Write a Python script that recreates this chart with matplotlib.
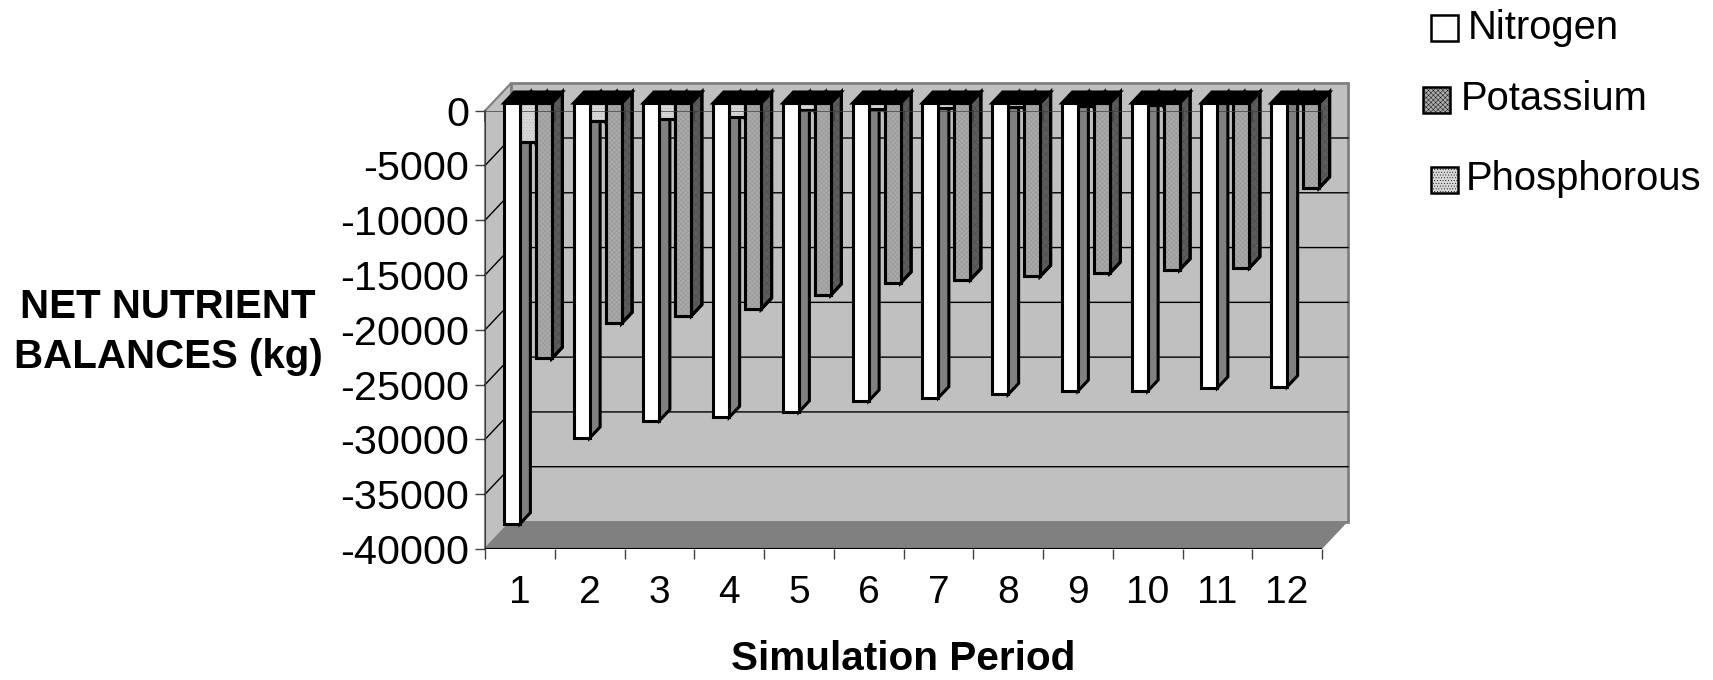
import numpy as np
import matplotlib
matplotlib.use("Agg")
import matplotlib.pyplot as plt
from matplotlib.patches import Polygon, Rectangle

plt.rcParams['font.family'] = ['Liberation Sans', 'DejaVu Sans']
plt.rcParams['hatch.linewidth'] = 0.3

# Datos
periods = [1, 2, 3, 4, 5, 6, 7, 8, 9, 10, 11, 12]
nitrogen = [-38400, -30570, -28980, -28680, -28190, -27190, -26890, -26590, -26290, -26290, -25990, -25890]
phosphorous = [-3560, -1610, -1460, -1250, -640, -550, -430, -400, -250, -180, -30, -20]
potassium = [-23300, -20110, -19410, -18810, -17520, -16420, -16120, -15820, -15520, -15220, -15030, -7750]
y_ticks = [0, -5000, -10000, -15000, -20000, -25000, -30000, -35000, -40000]
legend_names = ["Nitrogen", "Potassium", "Phosphorous"]

W, H = 1713, 680
x0, x1, y0, y1 = 485, 1322, 549, 110.7

fig = plt.figure(figsize=(W / 100, H / 100), dpi=100)
ax = fig.add_axes([x0 / W, 1 - y0 / H, (x1 - x0) / W, (y0 - y1) / H])
ax.set_xlim(0, 12)
ax.set_ylim(-40000, 0)
ax.patch.set_visible(False)
for s in ax.spines.values():
    s.set_visible(False)

# profundidad de la caja en unidades de datos
px_x = 12 / (x1 - x0)
px_y = 40000 / (y0 - y1)
DX = 26 * px_x
DY = 27.5 * px_y


def proj(x, y, d):
    return (x + d * DX, y + d * DY)


def poly(pts, fc, ec="none", lw=0, z=1, hatch=None, hc=None):
    p = Polygon(pts, closed=True, facecolor=fc, edgecolor=ec, linewidth=lw, zorder=z,
                clip_on=False, joinstyle="miter")
    ax.add_patch(p)
    if hatch:
        ax.add_patch(Polygon(pts, closed=True, facecolor="none", edgecolor=hc, linewidth=0,
                             hatch=hatch, zorder=z, clip_on=False))
        ax.add_patch(Polygon(pts, closed=True, facecolor="none", edgecolor=ec, linewidth=lw,
                             zorder=z, clip_on=False, joinstyle="miter"))


# pared del fondo, pared lateral y suelo
poly([proj(0, -40000, 1), proj(12, -40000, 1), proj(12, 0, 1), proj(0, 0, 1)], "#c0c0c0", "#808080", 2, 1)
poly([proj(0, -40000, 0), proj(0, -40000, 1), proj(0, 0, 1), proj(0, 0, 0)], "#c0c0c0", "#808080", 1.5, 1)
poly([proj(0, -40000, 0), proj(12, -40000, 0), proj(12, -40000, 1), proj(0, -40000, 1)], "#808080", z=1)

for v in y_ticks[1:-1]:
    a = proj(0, v, 0)
    b = proj(0, v, 1)
    c = proj(12, v, 1)
    ax.plot([a[0], b[0], c[0]], [a[1], b[1], c[1]], color="black", lw=1, zorder=2, clip_on=False)

# barras
bar_w = 16 * px_x
d0 = 0.28
d1 = 0.68
start = 11.7 * px_x
styles = [
    ("white", "#808080", None, None),
    ("#d8d8d8", "#808080", "......", "#b0b0b0"),
    ("#aaaaaa", "#5c5c5c", "xxxxxxx", "#909090"),
]
for i, p in enumerate(periods):
    for j, (vals, st) in enumerate(zip([nitrogen, phosphorous, potassium], styles)):
        left = i + start + j * bar_w
        right = left + bar_w
        v = vals[i]
        fc, side, hatch, hc = st
        z = 3 + i + j * 0.1
        poly([proj(right, v, d0), proj(right, v, d1), proj(right, 0, d1), proj(right, 0, d0)],
             side, "black", 2.2, z, hatch="xxxx" if j == 2 else None, hc="#444444")
        poly([proj(left, 0, d0), proj(left, 0, d1), proj(right, 0, d1), proj(right, 0, d0)],
             "black", "black", 2.2, z)
        # la cara blanca tapa la linea del cero, como en el original
        poly([proj(left, v, d0), proj(right, v, d0), proj(right, 0, d0), proj(left, 0, d0)],
             fc, "black", 2.2, 21 if j == 0 else z, hatch=hatch, hc=hc)

# linea del cero y marcas por delante de las barras
ax.plot([0, 12], [0, 0], color="#404040", lw=1.3, zorder=20, alpha=0.8)
ax.plot([0, 0], [-40000, 0], color="#404040", lw=1.5, zorder=20)
ax.plot([0, 12], [-40000, -40000], color="black", lw=1.5, zorder=20)
for k in range(13):
    ax.plot([k, k], [0, -10 * px_y], color="#404040", lw=1.2, zorder=20, clip_on=False)

ax.set_xticks(np.arange(13))
ax.set_xticks(np.arange(12) + 0.5, minor=True)
ax.set_xticklabels([])
ax.set_xticklabels([str(p) for p in periods], minor=True, fontsize=28)
ax.tick_params(axis="x", which="major", length=7.5, width=1, color="#404040", direction="out")
ax.tick_params(axis="x", which="minor", length=0, pad=19)
ax.set_yticks(y_ticks)
ax.set_yticklabels([str(v) for v in y_ticks], fontsize=29.8)
ax.tick_params(axis="y", length=7.5, width=1, color="#404040", pad=4)

fig.text(903 / W, 1 - 659 / H, "Simulation Period", fontsize=29.2, fontweight="bold", ha="center", va="center")
fig.text(168 / W, 1 - 332 / H, "NET NUTRIENT\nBALANCES (kg)", fontsize=29, fontweight="bold",
         ha="center", va="center", linespacing=1.42)

# leyenda, cada entrada en su sitio como en el original
leg_pos = [(1431, 15, 1468, 28), (1423, 87, 1461, 99), (1431, 167, 1466, 179)]
leg_fill = [("white", None, None), ("#aaaaaa", "xxxxxxx", "#909090"), ("#d8d8d8", "......", "#b0b0b0")]
for name, (bx, by, tx, ty), (fc, hatch, hc) in zip(legend_names, leg_pos, leg_fill):
    fig.add_artist(Rectangle((bx / W, 1 - (by + 26) / H), 27 / W, 26 / H, transform=fig.transFigure,
                             facecolor=fc, edgecolor="black", linewidth=1.8, hatch=hatch))
    fig.text(tx / W, 1 - ty / H, name, fontsize=28.8, ha="left", va="center")

fig.savefig("out.png", dpi=100)
